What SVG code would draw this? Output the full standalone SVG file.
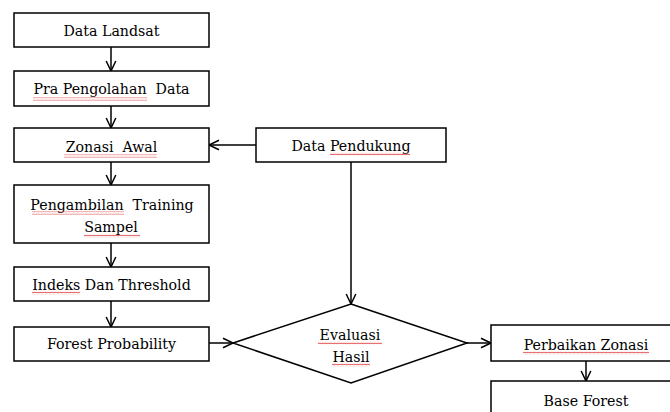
<svg xmlns="http://www.w3.org/2000/svg" width="670" height="412" viewBox="0 0 670 412">
<style>
.box{fill:#fff;stroke:#000;stroke-width:1.5}
.t{font-family:'DejaVu Serif',serif;font-size:14.2px;fill:#000;text-anchor:middle}
.c{stroke:#000;stroke-width:1.5;fill:none}
.sq{fill:url(#squig)}
</style>
<defs>
<marker id="ah" markerUnits="userSpaceOnUse" markerWidth="14" markerHeight="14" viewBox="0 0 14 14" refX="12" refY="7" orient="auto">
<path d="M2,2.2 L12,7 L2,11.8" fill="none" stroke="#000" stroke-width="1.5"/>
</marker>
<pattern id="squig" patternUnits="userSpaceOnUse" width="4" height="3">
<path d="M0,2.2 L1,0.8 L2,2.2 L3,0.8 L4,2.2" fill="none" stroke="#e03030" stroke-width="0.7"/>
</pattern>
</defs>
<rect width="670" height="412" fill="#fff"/>
<g id="connectors">
<line class="c" x1="111" y1="47" x2="111" y2="71" marker-end="url(#ah)"/>
<line class="c" x1="111" y1="106" x2="111" y2="128" marker-end="url(#ah)"/>
<line class="c" x1="256" y1="145" x2="209" y2="145" marker-end="url(#ah)"/>
<line class="c" x1="111" y1="162" x2="111" y2="185" marker-end="url(#ah)"/>
<line class="c" x1="111" y1="243" x2="111" y2="267" marker-end="url(#ah)"/>
<line class="c" x1="111" y1="301" x2="111" y2="327" marker-end="url(#ah)"/>
<line class="c" x1="209" y1="343" x2="233" y2="343" marker-end="url(#ah)"/>
<line class="c" x1="351" y1="162" x2="351" y2="304" marker-end="url(#ah)"/>
<line class="c" x1="467" y1="343" x2="491" y2="343" marker-end="url(#ah)"/>
<line class="c" x1="586" y1="361" x2="586" y2="381" marker-end="url(#ah)"/>
</g>
<g id="data-landsat">
<rect class="box" x="14" y="13" width="195" height="34"/>
<text class="t" x="111.5" y="36">Data Landsat</text>
</g>
<g id="pra-pengolahan">
<rect class="box" x="14" y="71" width="195" height="35"/>
<text class="t" x="111.5" y="94" xml:space="preserve">Pra Pengolahan  Data</text>
<rect class="sq" x="33" y="97.5" width="114" height="3"/>
</g>
<g id="zonasi-awal">
<rect class="box" x="14" y="128" width="195" height="34"/>
<text class="t" x="111.5" y="152" xml:space="preserve">Zonasi  Awal</text>
<rect class="sq" x="64" y="154.5" width="93" height="3"/>
</g>
<g id="pengambilan">
<rect class="box" x="14" y="185" width="195" height="58"/>
<text class="t" x="112" y="210" xml:space="preserve">Pengambilan  Training</text>
<text class="t" x="111" y="232">Sampel</text>
<rect class="sq" x="32" y="211.5" width="92" height="3"/>
<rect class="sq" x="84" y="234.5" width="56" height="3"/>
</g>
<g id="indeks">
<rect class="box" x="14" y="267" width="195" height="34"/>
<text class="t" x="111.5" y="290">Indeks Dan Threshold</text>
<rect class="sq" x="32" y="291.5" width="48" height="3"/>
</g>
<g id="forest-probability">
<rect class="box" x="14" y="327" width="195" height="34"/>
<text class="t" x="111.5" y="349">Forest Probability</text>
</g>
<g id="data-pendukung">
<rect class="box" x="256" y="128" width="190" height="34"/>
<text class="t" x="351" y="151">Data Pendukung</text>
<rect class="sq" x="330" y="152.5" width="80" height="3"/>
</g>
<g id="evaluasi-hasil">
<polygon class="box" points="351,304 467,343 351,383 233,343"/>
<text class="t" x="350" y="340">Evaluasi</text>
<text class="t" x="351" y="362">Hasil</text>
<rect class="sq" x="318" y="341.5" width="64" height="3"/>
<rect class="sq" x="332" y="363.5" width="38" height="3"/>
</g>
<g id="perbaikan-zonasi">
<rect class="box" x="491" y="325" width="190" height="36"/>
<text class="t" x="586" y="350">Perbaikan Zonasi</text>
<rect class="sq" x="523" y="351.5" width="126" height="3"/>
</g>
<g id="base-forest">
<rect class="box" x="491" y="381" width="190" height="40"/>
<text class="t" x="586" y="406">Base Forest</text>
</g>
</svg>
